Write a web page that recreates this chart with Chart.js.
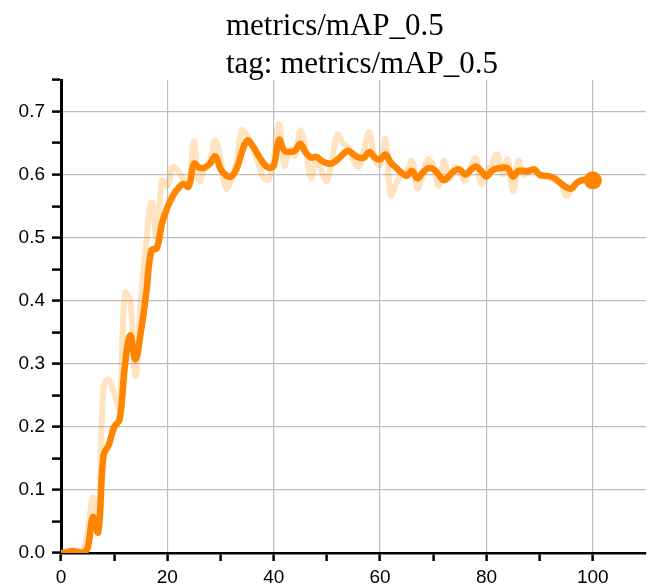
<!DOCTYPE html>
<html>
<head>
<meta charset="utf-8">
<title>metrics/mAP_0.5</title>
<script src="https://cdn.jsdelivr.net/npm/chart.js@4.4.1/dist/chart.umd.min.js"></script>
<style>
  html, body { margin: 0; padding: 0; background: #fff; }
  #wrap { position: relative; width: 656px; height: 588px; }
  #chart-title {
    position: absolute; left: 226px; top: 6px;
    font-family: 'Liberation Serif', 'Times New Roman', serif;
    font-size: 31px; line-height: 38px; color: #000; white-space: nowrap;
  }
  canvas { display: block; }
</style>
</head>
<body>
<div id="wrap">
  <div id="chart-title">metrics/mAP_0.5<br>tag: metrics/mAP_0.5</div>
  <canvas id="map-chart" width="656" height="588"></canvas>
</div>
<script>
/* ============================================
   mAP@0.5 per epoch ‚Äî raw + smoothed curve
   ============================================ */

// epochs (x)
const epochs = [
  0, 1, 2, 3, 4, 5, 6, 7, 8, 9, 10, 11, 12, 13, 14, 15, 16, 17, 18, 19,
  20, 21, 22, 23, 24, 25, 26, 27, 28, 29, 30, 31, 32, 33, 34, 35, 36, 37, 38, 39,
  40, 41, 42, 43, 44, 45, 46, 47, 48, 49, 50, 51, 52, 53, 54, 55, 56, 57, 58, 59,
  60, 61, 62, 63, 64, 65, 66, 67, 68, 69, 70, 71, 72, 73, 74, 75, 76, 77, 78, 79,
  80, 81, 82, 83, 84, 85, 86, 87, 88, 89, 90, 91, 92, 93, 94, 95, 96, 97, 98, 99,
  100
];

// raw values (light line)
const rawMap = [
  0.000, 0.002, 0.003, 0.001, 0.000, 0.030, 0.088, 0.040, 0.263, 0.275,
  0.253, 0.232, 0.412, 0.400, 0.280, 0.400, 0.490, 0.556, 0.500, 0.590,
  0.582, 0.612, 0.606, 0.593, 0.582, 0.652, 0.590, 0.610, 0.622, 0.654,
  0.625, 0.578, 0.590, 0.620, 0.670, 0.662, 0.645, 0.620, 0.596, 0.592,
  0.625, 0.680, 0.614, 0.640, 0.630, 0.670, 0.640, 0.595, 0.625, 0.605,
  0.590, 0.625, 0.664, 0.650, 0.643, 0.622, 0.612, 0.640, 0.667, 0.625,
  0.615, 0.656, 0.568, 0.585, 0.600, 0.605, 0.622, 0.578, 0.600, 0.624,
  0.614, 0.582, 0.622, 0.595, 0.612, 0.605, 0.590, 0.610, 0.626, 0.585,
  0.600, 0.615, 0.632, 0.600, 0.624, 0.574, 0.622, 0.600, 0.605, 0.610,
  0.598, 0.598, 0.595, 0.590, 0.585, 0.566, 0.578, 0.588, 0.592, 0.590,
  0.590
];

// smoothed values (dark line)
const smoothMap = [
  0.000, 0.001, 0.003, 0.002, 0.000, 0.008, 0.057, 0.033, 0.155, 0.172,
  0.200, 0.211, 0.295, 0.345, 0.307, 0.350, 0.410, 0.480, 0.483, 0.523,
  0.548, 0.566, 0.578, 0.585, 0.581, 0.617, 0.611, 0.611, 0.617, 0.629,
  0.609, 0.599, 0.597, 0.609, 0.635, 0.654, 0.646, 0.632, 0.619, 0.611,
  0.614, 0.655, 0.638, 0.636, 0.638, 0.649, 0.635, 0.627, 0.628, 0.622,
  0.618, 0.618, 0.624, 0.632, 0.638, 0.632, 0.627, 0.627, 0.636, 0.627,
  0.624, 0.632, 0.619, 0.611, 0.603, 0.598, 0.606, 0.594, 0.603, 0.610,
  0.609, 0.600, 0.591, 0.598, 0.606, 0.608, 0.600, 0.607, 0.613, 0.606,
  0.597, 0.606, 0.610, 0.611, 0.610, 0.597, 0.606, 0.606, 0.606, 0.608,
  0.600, 0.598, 0.597, 0.593, 0.586, 0.580, 0.578, 0.587, 0.591, 0.591,
  0.591
];

// axis ticks
const yMax = 0.75;
const yStep = 0.05;
const xMax = 110;
const xStep = 10;

const ORANGE = '#ff8500';
const ORANGE_FAINT = 'rgba(255, 140, 0, 0.25)';
const GRID = '#bdbdbd';
const TICK_FONT = { family: "'Liberation Sans', Arial, sans-serif", size: 19 };

const toPoints = (vals) => epochs.map((e, i) => ({ x: e, y: vals[i] }));
const isMultiple = (v, m) => Math.abs(v / m - Math.round(v / m)) < 1e-6;

const ctx = document.getElementById('map-chart');
new Chart(ctx, {
  type: 'line',
  data: {
    datasets: [
      {
        label: 'smoothed',
        data: toPoints(smoothMap),
        borderColor: ORANGE,
        backgroundColor: ORANGE,
        borderWidth: 6.5,
        tension: 0.4,
        pointRadius: (c) => c.dataIndex === smoothMap.length - 1 ? 9 : 0,
        pointBackgroundColor: ORANGE,
        pointBorderWidth: 0,
        order: 1
      },
      {
        label: 'raw',
        data: toPoints(rawMap),
        borderColor: ORANGE_FAINT,
        borderWidth: 6,
        tension: 0.4,
        pointRadius: 0,
        order: 2
      }
    ]
  },
  options: {
    responsive: false,
    animation: false,
    events: [],
    layout: { padding: { top: 80, right: 10, left: 0, bottom: 0 } },
    scales: {
      x: {
        type: 'linear',
        min: 0,
        max: xMax,
        afterFit: (s) => { s.height = 35; },
        ticks: {
          stepSize: xStep,
          color: '#000',
          font: TICK_FONT,
          padding: 5,
          maxRotation: 0,
          autoSkip: false,
          callback: (v) => isMultiple(v, 20) && v < xMax ? String(v) : ''
        },
        grid: {
          color: (c) => c.tick && isMultiple(c.tick.value, 20) && c.tick.value > 0 && c.tick.value < xMax ? GRID : 'transparent',
          lineWidth: 1.2,
          tickColor: (c) => c.tick && c.tick.value < xMax ? '#000' : 'transparent',
          tickLength: 8,
          tickWidth: 2.5
        },
        border: { color: '#000', width: 2.5 }
      },
      y: {
        min: 0,
        max: yMax,
        afterFit: (s) => { s.width = 61; },
        ticks: {
          stepSize: yStep,
          color: '#000',
          font: TICK_FONT,
          padding: 7,
          autoSkip: false,
          callback: (v) => isMultiple(v, 0.1) ? v.toFixed(1) : ''
        },
        grid: {
          color: (c) => c.tick && isMultiple(c.tick.value, 0.1) && c.tick.value > 0 ? GRID : 'transparent',
          lineWidth: 1.2,
          tickColor: '#000',
          tickLength: 9,
          tickWidth: 2.5
        },
        border: { color: '#000', width: 3 }
      }
    },
    plugins: {
      legend: { display: false },
      tooltip: { enabled: false },
      title: { display: false }
    }
  }
});
</script>
</body>
</html>
